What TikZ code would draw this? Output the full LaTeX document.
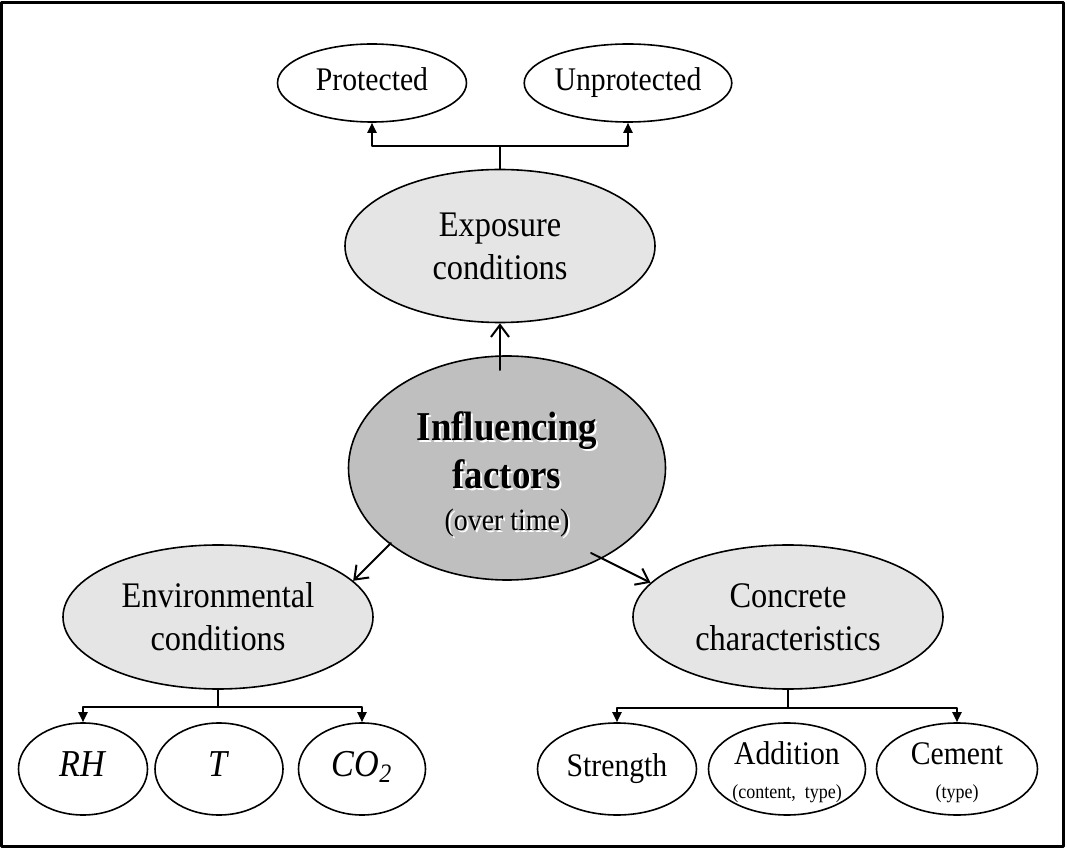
\documentclass[tikz,border=0pt]{standalone}
\usepackage{fontspec}
\setmainfont{Liberation Serif}[FakeStretch=0.9]
\usetikzlibrary{shapes.geometric, arrows.meta}

\newcommand\ombre[1]{\makebox[0pt][l]{\hspace{1pt}\raisebox{-1pt}{\color{white}#1}}#1}

\tikzset{
    feuille/.style={ellipse, draw=black, line width=0.8pt, fill=white, inner xsep=0pt, inner ysep=-6pt,
        minimum height=46pt, align=center, font=\fontsize{16.5}{19}\selectfont,
        execute at begin node=\strut},
    moyen/.style={ellipse, draw=black, line width=0.8pt, fill=gray!20, inner sep=0pt,
        minimum width=155pt, minimum height=72pt, align=center, font=\fontsize{18}{21.5}\selectfont},
    central/.style={ellipse, draw=black, line width=0.8pt, fill=black!25, inner sep=0pt,
        minimum width=158.5pt, minimum height=112pt, align=center,
        font=\fontsize{20.5}{24}\selectfont\bfseries},
    branche/.style={line width=1pt, -{Triangle[length=5pt, width=4.5pt]}},
    fleche/.style={line width=1pt, -{Straight Barb[length=6pt, width=9pt]}}
}

\begin{document}
\begin{tikzpicture}[x=0.5pt, y=-0.5pt, line join=round, line cap=round]
    \useasboundingbox (0,0) rectangle (1067,850);
    \draw[line width=1.5pt] (1.5,2.5) rectangle (1063,846.5);

    \node[feuille, minimum width=94.5pt, minimum height=39pt] (prot) at (372,83) {Protected};
    \node[feuille, minimum width=94.5pt, minimum height=39pt] (unprot) at (628,83) {Unprotected};

    \node[moyen, minimum height=76.5pt] (expo) at (500,246) {Exposure\\conditions};
    \node[central] (infl) at (507,468)
        {\rule{0pt}{22pt}\ombre{Influencing}\\\ombre{factors}\\[-3pt]
         \fontsize{15.5}{18}\selectfont\mdseries\ombre{(over time)}};
    \node[moyen] (env) at (218,617) {Environmental\\conditions};
    \node[moyen] (conc) at (788,617) {Concrete\\characteristics};

    \foreach \nom/\x/\largeur/\txt in {
        rh/83/64.5/{\fontsize{19}{22}\selectfont\textit{RH}},
        t/219/64/{\fontsize{19}{22}\selectfont\textit{T}},
        co/362/63.5/{\fontsize{19}{22}\selectfont\textit{CO\textsubscript{2}}},
        str/617/79.5/{Strength},
        add/787/78.5/{\rule{0pt}{18pt}Addition\\[-2pt]\fontsize{10}{12}\selectfont(content,\ \ type)},
        cem/957/80.5/{\rule{0pt}{18pt}Cement\\[-2pt]\fontsize{10}{12}\selectfont(type)}} {
        \node[feuille, minimum width=\largeur pt] (\nom) at (\x,769) {\txt};
    }

    \draw[branche] (expo.north) -- ++(0,-23) coordinate (jexpo) -| (prot.south);
    \draw[branche] (jexpo) -| (unprot.south);
    \draw[branche] (env.south) -- ++(0,17) coordinate (jenv) -| (rh.north);
    \draw[branche] (jenv) -| (co.north);
    \draw[branche] (conc.south) -- ++(0,18) coordinate (jconc) -| (str.north);
    \draw[branche] (jconc) -| (cem.north);

    \coordinate (dhaut) at (500,370);
    \coordinate (dgauche) at (391,543);
    \coordinate (ddroite) at (591,553);
    \draw[fleche] (dhaut) -- (expo.south);
    \draw[fleche] (dgauche) -- (env.15);
    \draw[fleche] (ddroite) -- (conc.166);
\end{tikzpicture}
\end{document}
